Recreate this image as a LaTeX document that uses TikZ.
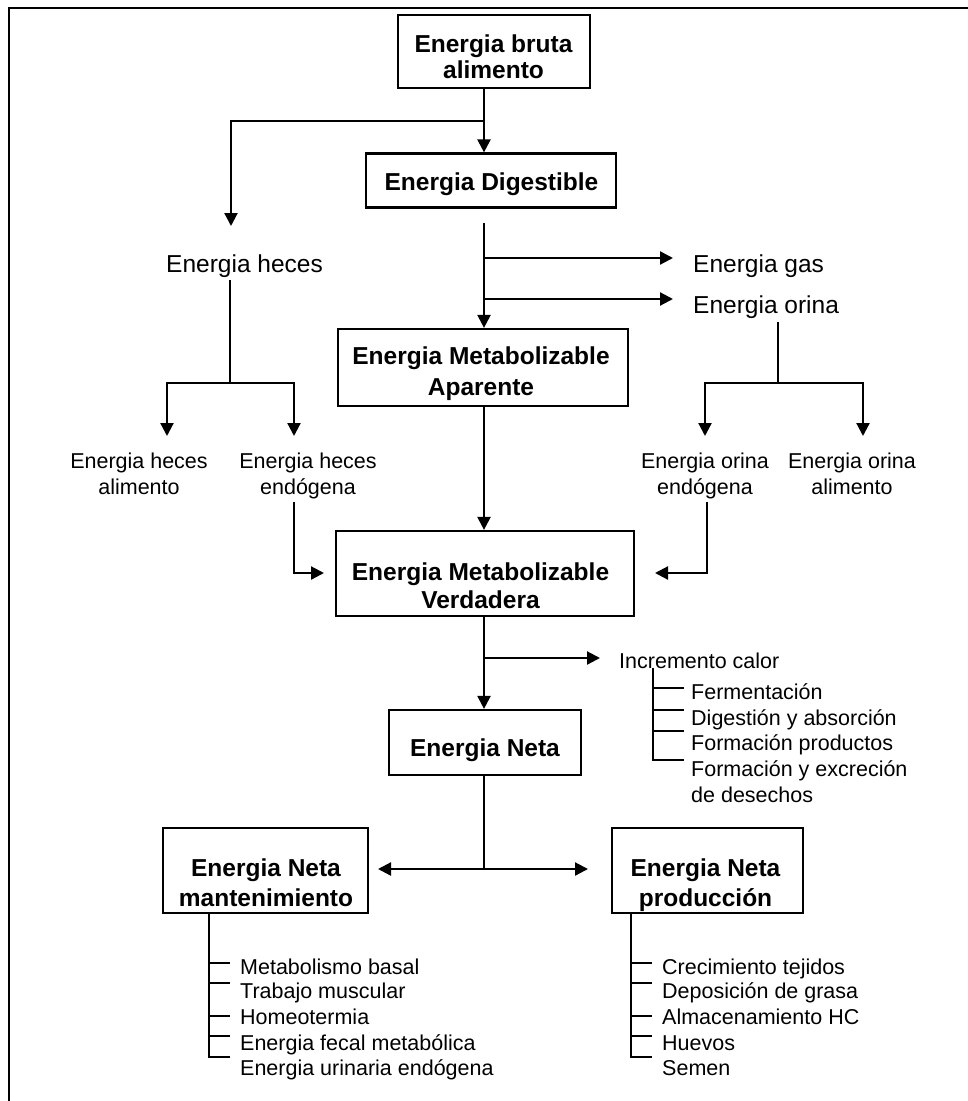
\documentclass[tikz,border=0pt]{standalone}
\usepackage{fontspec}
\setmainfont{Liberation Sans}
\usetikzlibrary{arrows.meta}
\begin{document}
\begin{tikzpicture}[x=1pt,y=-1pt,
  box/.style={draw, line width=2.2pt, inner sep=0pt},
  btxt/.style={inner sep=0pt, align=center, font=\fontsize{24.5}{29}\selectfont\bfseries},
  lbl/.style={inner sep=0pt, anchor=base west, font=\fontsize{24.5}{28}\selectfont},
  sml/.style={inner sep=0pt, align=center, font=\fontsize{21.5}{26}\selectfont},
  itm/.style={inner sep=0pt, anchor=base west, font=\fontsize{21.5}{25}\selectfont},
  ln/.style={line width=2.2pt},
  lst/.style={line width=1.8pt},
  arr/.style={line width=2.2pt, -{Triangle[length=13pt,width=13pt]}},
]
\useasboundingbox (0,0) rectangle (968,1101);
\draw[line width=2.6pt] (9,1101) -- (9,8) -- (968,8);

% boxes
\node[box, minimum width=192pt, minimum height=73pt] (b1) at (494,51.5) {};
\node[btxt, font=\fontsize{24.5}{26}\selectfont\bfseries] (t1) at (493.5,57) {Energia bruta\\alimento};
\node[box, minimum width=250pt, minimum height=54pt] (b2) at (491,180.5) {};
\node[btxt] (t2) at (491.5,184.5) {Energia Digestible};
\node[box, minimum width=290pt, minimum height=77pt] (b3) at (483,367.5) {};
\node[btxt, font=\fontsize{24.5}{31}\selectfont\bfseries] (t3) at (481,374) {Energia Metabolizable\\Aparente};
\node[box, minimum width=298pt, minimum height=85pt] (b4) at (485,573.5) {};
\node[btxt, font=\fontsize{24.5}{28}\selectfont\bfseries] (t4) at (480.5,586) {Energia Metabolizable\\Verdadera};
\node[box, minimum width=192pt, minimum height=65pt] (b5) at (485,742.5) {};
\node[btxt] (t5) at (485,750) {Energia Neta};
\node[box, minimum width=205pt, minimum height=85pt] (b6) at (265.5,870.5) {};
\node[btxt, font=\fontsize{24.5}{30}\selectfont\bfseries] (t6) at (266,883) {Energia Neta\\mantenimiento};
\node[box, minimum width=191pt, minimum height=85pt] (b7) at (707.5,870.5) {};
\node[btxt, font=\fontsize{24.5}{30}\selectfont\bfseries] (t7) at (705.5,885) {Energia Neta\\producción};

% labels
\node[lbl] (eh) at (166,272) {Energia heces};
\node[lbl] (eg) at (693,272) {Energia gas};
\node[lbl] (eo) at (693,313) {Energia orina};
\node[sml] (eha) at (139,473.5) {Energia heces\\alimento};
\node[sml] (ehe) at (308,475.5) {Energia heces\\endógena};
\node[sml] (eoe) at (705,475.5) {Energia orina\\endógena};
\node[sml] (eoa) at (852,473.5) {Energia orina\\alimento};
\node[itm] (ic) at (619,668) {Incremento calor};
\node[itm] (i1) at (691,699) {Fermentación};
\node[itm] (i2) at (691,725) {Digestión y absorción};
\node[itm] (i3) at (691,750) {Formación productos};
\node[itm] (i4) at (691,776) {Formación y excreción};
\node[itm] (i5) at (691,802) {de desechos};
\node[itm] (m1) at (240,974) {Metabolismo basal};
\node[itm] (m2) at (240,998) {Trabajo muscular};
\node[itm] (m3) at (240,1024) {Homeotermia};
\node[itm] (m4) at (240,1050) {Energia fecal metabólica};
\node[itm] (m5) at (240,1075) {Energia urinaria endógena};
\node[itm] (p1) at (662,974) {Crecimiento tejidos};
\node[itm] (p2) at (662,998) {Deposición de grasa};
\node[itm] (p3) at (662,1024) {Almacenamiento HC};
\node[itm] (p4) at (662,1050) {Huevos};
\node[itm] (p5) at (662,1075) {Semen};

% coordinates
\coordinate (sp) at (484,0);
\coordinate (j1) at (484,121);
\coordinate (h1) at (231,226);
\coordinate (s2) at (484,223);
\coordinate (g1) at (484,258);
\coordinate (g2) at (673,258);
\coordinate (o1) at (484,299);
\coordinate (o2) at (673,299);
\coordinate (ot) at (778,322);
\coordinate (oj) at (778,383);
\coordinate (oL) at (705,436);
\coordinate (oR) at (863,436);
\coordinate (ht) at (230,280);
\coordinate (hj) at (230,383);
\coordinate (hL) at (167,436);
\coordinate (hR) at (294,436);
\coordinate (hE1) at (294,502);
\coordinate (hE2) at (324,573);
\coordinate (oE1) at (707,502);
\coordinate (oE2) at (655,573);
\coordinate (c1) at (484,658);
\coordinate (c2) at (600,658);
\coordinate (lt) at (653,668);
\coordinate (jn) at (484,869);
\coordinate (nL) at (378,869);
\coordinate (nR) at (588,869);
\coordinate (mx) at (209,0);
\coordinate (px) at (631,0);

% connectors
\draw[arr] (b1.south -| sp) -- (b2.north -| sp);
\draw[arr] (j1) -| (h1);
\draw[arr] (s2) -- (b3.north -| sp);
\draw[arr] (g1) -- (g2);
\draw[arr] (o1) -- (o2);
\draw[ln] (ot) -- (oj);
\draw[arr] (oj) -| (oL);
\draw[arr] (oj) -| (oR);
\draw[ln] (ht) -- (hj);
\draw[arr] (hj) -| (hL);
\draw[arr] (hj) -| (hR);
\draw[arr] (b3.south -| sp) -- (b4.north -| sp);
\draw[arr] (hE1) |- (hE2);
\draw[arr] (oE1) |- (oE2);
\draw[arr] (b4.south -| sp) -- (b5.north -| sp);
\draw[arr] (c1) -- (c2);
\draw[ln] (b5.south -| sp) -- (jn);
\draw[arr] (jn) -- (nL);
\draw[arr] (jn) -- (nR);

% incremento list
\draw[lst] (lt) |- (684,760);
\foreach \yy in {688,710,731} \draw[lst] (653,\yy) -- (684,\yy);

% mantenimiento list
\draw[lst] (b6.south -| mx) |- (230,1057);
\foreach \yy in {963,983,1016,1036} \draw[lst] (209,\yy) -- (230,\yy);

% produccion list
\draw[lst] (b7.south -| px) |- (652,1057);
\foreach \yy in {963,983,1016,1036} \draw[lst] (631,\yy) -- (652,\yy);
\end{tikzpicture}
\end{document}
